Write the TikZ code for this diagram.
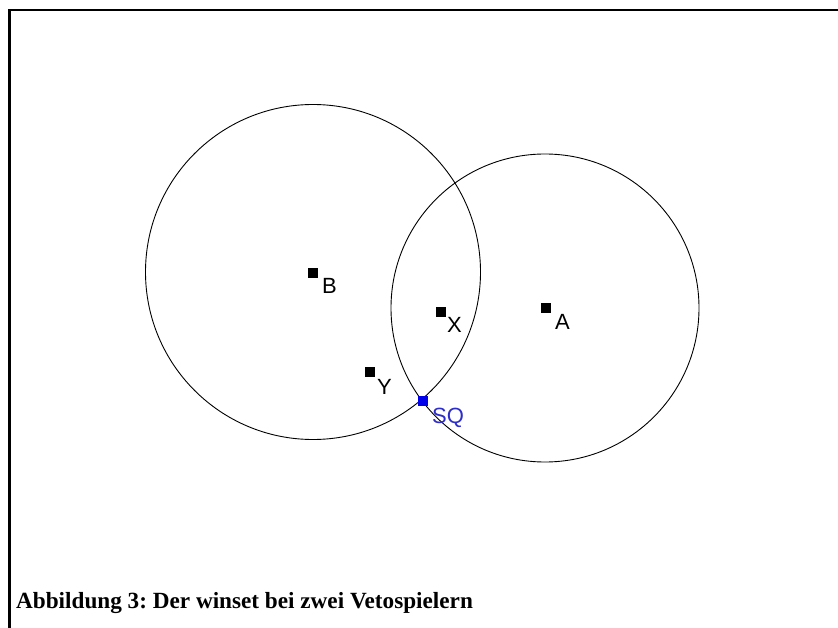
\documentclass[tikz,border=0pt]{standalone}
\usepackage{fontspec}
\setmainfont{Liberation Serif}
\newfontfamily\labfont{Liberation Sans}
\definecolor{sqblue}{RGB}{0,0,235}
\definecolor{sqtext}{RGB}{45,45,205}
\frenchspacing
\begin{document}
\begin{tikzpicture}[x=1pt,y=-1pt,
  marker/.style={rectangle,fill=black,inner sep=0pt,minimum size=9.5pt},
  lab/.style={anchor=base west,inner sep=0pt,font=\labfont\fontsize{22}{26}\selectfont},
  circ/.style={draw=black,line width=0.9pt}]
\useasboundingbox (0,0) rectangle (838,628);
\fill[white] (0,0) rectangle (838,628);
% frame
\draw[line width=2.4pt] (9.5,628) -- (9.5,10) -- (838,10);
% circles
\draw[circ] (313,272) circle[radius=167.5pt];
\draw[circ] (545,308) circle[radius=154pt];
% points
\node[marker] (B) at (313,273) {};
\node[marker] (A) at (546,308) {};
\node[marker] (X) at (441,312) {};
\node[marker] (Y) at (370,372) {};
\node[marker,fill=sqblue] (SQ) at (423,401) {};
% labels
\node[lab] (Bl) at (322,294) {B};
\node[lab] (Al) at (555,330) {A};
\node[lab] (Xl) at (447,333) {X};
\node[lab] (Yl) at (377,394) {Y};
\node[lab,text=sqtext] (SQl) at (432,423) {SQ};
% caption
\node[anchor=base west,inner sep=0pt,font=\bfseries\fontsize{23.2}{28}\selectfont] (cap) at (16,608) {Abbildung 3: Der winset bei zwei Vetospielern};
\end{tikzpicture}
\end{document}
